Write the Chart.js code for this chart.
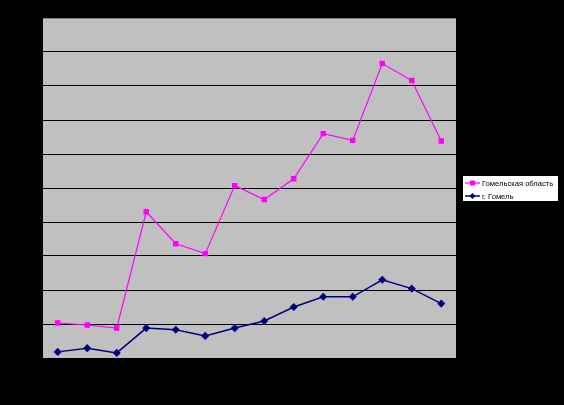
<!DOCTYPE html>
<html>
<head>
<meta charset="utf-8">
<script src="https://cdn.jsdelivr.net/npm/chart.js@4"></script>
<style>
    html, body { margin: 0; padding: 0; background: #000; }
    #chart { display: block; }
</style>
</head>
<body>
<canvas id="chart" width="564" height="405"></canvas>
<script>
// Chart data
const categories = ['1', '2', '3', '4', '5', '6', '7', '8', '9', '10', '11', '12', '13', '14'];
const regionValues = [10.3, 9.7, 8.8, 43.0, 33.6, 30.7, 50.7, 46.6, 52.7, 66.0, 64.0, 86.6, 81.6, 63.8];
const cityValues = [1.8, 2.9, 1.5, 8.8, 8.3, 6.5, 8.8, 10.9, 15.0, 18.0, 18.0, 23.0, 20.4, 16.0];
const seriesNames = ['Гомельская область', 'г. Гомель'];

/**
 * Fills the canvas black and the plot area gray
 */
const backgroundPlugin = {
    id: 'background',
    beforeDraw(chart) {
        const ctx = chart.ctx;
        const area = chart.chartArea;
        ctx.save();
        ctx.fillStyle = '#000';
        ctx.fillRect(0, 0, chart.width, chart.height);
        ctx.fillStyle = '#c0c0c0';
        ctx.fillRect(area.left, area.top, area.right - area.left, area.bottom - area.top);
        ctx.restore();
    }
};

/**
 * Draws the boxed legend to the right of the plot
 */
const legendBoxPlugin = {
    id: 'legendBox',
    afterDraw(chart) {
        const ctx = chart.ctx;
        const x = 462, y = 175, w = 97, h = 27;
        ctx.save();
        ctx.fillStyle = '#fff';
        ctx.fillRect(x, y, w, h);
        ctx.strokeStyle = '#000';
        ctx.lineWidth = 1;
        ctx.strokeRect(x + 0.5, y + 0.5, w - 1, h - 1);

        ctx.font = '7.6px "Liberation Sans", Arial, sans-serif';
        ctx.textBaseline = 'middle';
        chart.data.datasets.forEach((ds, i) => {
            const cy = y + 8 + i * 13;
            ctx.strokeStyle = ds.borderColor;
            ctx.lineWidth = ds.borderWidth;
            ctx.beginPath();
            ctx.moveTo(x + 3, cy);
            ctx.lineTo(x + 18, cy);
            ctx.stroke();
            ctx.fillStyle = ds.pointBackgroundColor;
            if (ds.pointStyle === 'rect') {
                ctx.fillRect(x + 8, cy - 2.5, 5, 5);
            } else {
                ctx.beginPath();
                ctx.moveTo(x + 10.5, cy - 3);
                ctx.lineTo(x + 13.5, cy);
                ctx.lineTo(x + 10.5, cy + 3);
                ctx.lineTo(x + 7.5, cy);
                ctx.closePath();
                ctx.fill();
            }
            ctx.fillStyle = '#000';
            ctx.fillText(ds.label, x + 20, cy + 0.5, 73);
        });
        ctx.restore();
    }
};

const ctx = document.getElementById('chart').getContext('2d');
new Chart(ctx, {
    type: 'line',
    data: {
        labels: categories,
        datasets: [{
            label: seriesNames[0],
            data: regionValues,
            borderColor: '#ff00ff',
            backgroundColor: '#ff00ff',
            pointBackgroundColor: '#ff00ff',
            pointBorderColor: '#ff00ff',
            pointStyle: 'rect',
            pointRadius: 3,
            borderWidth: 1.2,
            tension: 0
        }, {
            label: seriesNames[1],
            data: cityValues,
            borderColor: '#000080',
            backgroundColor: '#000080',
            pointBackgroundColor: '#000080',
            pointBorderColor: '#000080',
            pointStyle: 'rectRot',
            pointRadius: 3,
            borderWidth: 1.5,
            tension: 0
        }]
    },
    options: {
        responsive: false,
        animation: false,
        devicePixelRatio: 1,
        layout: {
            padding: { left: 43, top: 18, right: 108, bottom: 47 }
        },
        plugins: {
            legend: { display: false },
            tooltip: { enabled: false }
        },
        scales: {
            x: {
                display: false,
                offset: true
            },
            y: {
                min: 0,
                max: 100,
                ticks: { display: false, stepSize: 10 },
                border: { display: false },
                grid: {
                    color: c => c.tick.value === 100 ? '#808080' : (c.tick.value === 0 ? 'rgba(0,0,0,0)' : '#000'),
                    lineWidth: 1,
                    drawTicks: false
                },
                afterFit(scale) { scale.width = 0; }
            }
        }
    },
    plugins: [backgroundPlugin, legendBoxPlugin]
});
</script>
</body>
</html>
